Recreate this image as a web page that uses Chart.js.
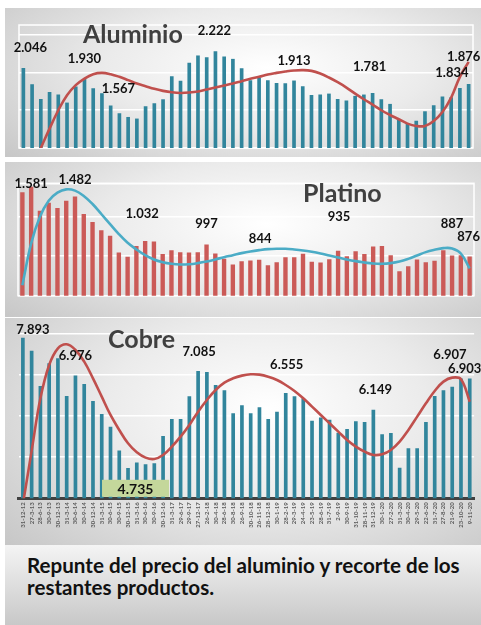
<!DOCTYPE html>
<html><head><meta charset="utf-8">
<script src="https://cdn.jsdelivr.net/npm/chart.js@4.4.0/dist/chart.umd.min.js"></script>
<style>
html,body{margin:0;padding:0;background:#fff;width:481px;height:625px;overflow:hidden;font-family:Lato,"Open Sans",sans-serif;}
.panel{position:absolute;left:5px;width:476px;background:radial-gradient(ellipse 75% 90% at 55% 40%, #ffffff 0%, #ebebeb 45%, #c6c6c6 100%);}
.panel canvas{position:absolute;left:0;top:0;}
.title{position:absolute;font-weight:700;font-size:25px;color:#404040;line-height:25px;white-space:nowrap;}
#caption{position:absolute;left:5px;top:545px;width:476px;height:80px;background:linear-gradient(to bottom,#f4f4f4,#c8c8c8);}
#captxt{position:absolute;left:27px;top:554px;font-weight:700;font-size:20.6px;line-height:22px;color:#111;white-space:nowrap;}
</style></head>
<body>
<div class="panel" id="p1" style="top:8px;height:149px;"><canvas id="c1"></canvas></div>
<div class="panel" id="p2" style="top:162px;height:155px;"><canvas id="c2"></canvas></div>
<div class="panel" id="p3" style="top:318px;height:227px;"><canvas id="c3"></canvas></div>
<div class="title" style="left:83px;top:21px;">Aluminio</div>
<div class="title" style="left:303px;top:180px;">Platino</div>
<div class="title" style="left:108px;top:326px;">Cobre</div>
<div id="caption"></div>
<div id="captxt">Repunte del precio del aluminio y recorte de los<br>restantes productos.</div>
<script>
const dates = ["31-12-12","27-3-13","28-6-13","30-9-13","30-12-13","31-3-14","30-6-14","30-9-14","30-12-14","31-3-15","30-6-15","30-9-15","30-12-15","31-3-16","30-6-16","30-9-16","30-12-16","31-3-17","29-6-17","29-9-17","27-12-17","26-2-18","30-4-18","28-6-18","30-8-18","26-9-18","30-10-18","26-11-18","28-12-18","30-1-19","28-2-19","29-3-19","24-4-19","23-5-19","28-6-19","31-7-19","2-9-19","30-9-19","31-10-19","28-11-19","31-12-19","30-1-20","27-2-20","31-3-20","30-4-20","29-5-20","22-6-20","31-7-20","27-8-20","21-9-20","23-10-20","9-11-20"];

const aluminio = [2046,1874,1719,1793,1765,1680,1849,1930,1832,1779,1648,1567,1528,1511,1641,1673,1715,1959,1910,2100,2178,2160,2222,2167,2142,2044,1917,1945,1917,1888,1885,1913,1853,1761,1765,1775,1719,1701,1751,1765,1781,1715,1666,1504,1458,1489,1588,1652,1744,1737,1834,1876];
const aluminioTrend = [null,1000,1200,1405,1599,1758,1864,1934,1980,1994,1980,1952,1917,1881,1853,1825,1804,1789,1782,1786,1797,1818,1839,1860,1881,1906,1931,1952,1977,1994,2008,2019,2023,2015,1987,1945,1895,1839,1775,1715,1659,1599,1549,1504,1458,1433,1433,1486,1581,1733,1952,2111];
const aluminioTicks = [1200,1600,2000,2400];
const aluminioLabelIdx = [0,7,11,22,31,40,50,51];

const platino = [1524,1581,1338,1419,1365,1439,1482,1304,1223,1142,1085,916,873,981,1032,1028,900,940,920,916,920,997,906,852,795,829,836,844,788,819,869,869,903,822,815,849,935,879,930,900,977,981,889,728,778,846,819,832,940,887,889,876];
const platinoTrend = [586,1008,1277,1439,1520,1554,1541,1487,1406,1305,1203,1102,1014,947,889,845,818,802,795,798,809,825,846,869,889,910,927,940,950,954,954,947,937,923,906,886,866,846,829,815,805,802,809,825,852,886,920,943,960,957,906,755];
const platinoTicks = [480,880,1280,1615];
const platinoLabelIdx = [1,6,14,21,27,36,49,51];

const cobre = [7893,7580,6723,7273,7394,6481,6976,6772,6360,6044,5737,5156,4735,4865,4824,4848,5511,5923,5923,6473,7085,7063,6747,6618,6061,6255,6061,6206,5923,6101,6555,6473,6424,5883,5956,5907,5592,5681,5867,5851,6149,5552,5584,4740,5212,5212,5851,6481,6618,6707,6907,6903];
const cobreTrend = [3850,5150,6424,7232,7636,7733,7596,7313,6909,6465,6020,5657,5333,5115,4986,4954,5051,5253,5495,5778,6101,6384,6626,6804,6909,6974,7006,6998,6949,6869,6747,6602,6424,6222,6020,5818,5616,5414,5253,5131,5051,5067,5172,5374,5657,5980,6303,6602,6828,6925,6885,6343];
const cobreTicks = [4000,5000,6000,7000,8000];
const cobreLabelIdx = [0,6,20,30,40,50,51];
const cobreBoxIdx = 12;

// label offsets (style) in px relative to bar top
const alOffsets = [[7,-20],[0,-20],[-1,-24],[-1,-20],[0,-20],[-3,-26],[-8,-15],[-5,-27]];
const ptOffsets = [[0,-3],[0,-17],[-3,-27],[0,-21],[1,-21],[1,-34],[0,-32],[-1,-20]];
const cuOffsets = [[10,-8],[0,-20],[1,-19],[1,-28],[2,-20],[-11,-24],[-5,-10]];

const fmt = v => String(v).replace(/\B(?=(\d{3})+(?!\d))/g, '.');

const labelPlugin = {
  id: 'valLabels',
  afterDatasetsDraw(chart, args, o) {
    if (!o || !o.idx) return;
    const ctx = chart.ctx, meta = chart.getDatasetMeta(1);
    const vals = chart.data.datasets[1].data;
    ctx.save();
    if (o.box != null) {
      const b = meta.data[o.box];
      const ca = chart.chartArea;
      const cx = b.x + 7.5, w = 67, h = 17;
      ctx.fillStyle = '#c4d79b';
      ctx.fillRect(cx - w/2, ca.bottom - 1.5 - h, w, h);
      ctx.fillStyle = '#111';
      ctx.font = 'bold 14px Lato';
      ctx.textAlign = 'center'; ctx.textBaseline = 'middle';
      ctx.fillText(fmt(vals[o.box]), cx, ca.bottom - 1.5 - h/2 + 1);
    }
    ctx.font = 'bold 13px Lato';
    ctx.fillStyle = '#111';
    ctx.textAlign = 'center'; ctx.textBaseline = 'middle';
    o.idx.forEach((i, k) => {
      const b = meta.data[i];
      const off = o.off[k];
      ctx.fillText(fmt(vals[i]), b.x + off[0], b.y + off[1]);
    });
    ctx.restore();
  }
};
const framePlugin = {
  id: 'frame',
  beforeDatasetsDraw(chart, args, o) {
    if (!o || !o.on) return;
    const {ctx, chartArea: ca} = chart;
    ctx.save(); ctx.strokeStyle = '#ffffff'; ctx.lineWidth = 1.5;
    ctx.strokeRect(ca.left, ca.top, ca.right - ca.left, ca.bottom - ca.top);
    ctx.restore();
  }
};
Chart.register(labelPlugin, framePlugin);

function make(id, w, h, cfg) {
  const cv = document.getElementById(id);
  cv.width = w; cv.height = h; cv.style.width = w + 'px'; cv.style.height = h + 'px';
  return new Chart(cv, {
    type: 'bar',
    data: {
      labels: dates,
      datasets: [
        {type: 'line', data: cfg.trend, borderColor: cfg.lineColor, borderWidth: 2.6, pointRadius: 0, tension: 0.4, fill: false, order: 0},
        {type: 'bar', data: cfg.values, backgroundColor: cfg.barColor, barPercentage: cfg.barPct, categoryPercentage: 1, order: 1}
      ]
    },
    options: {
      responsive: false, animation: false, devicePixelRatio: 1,
      layout: {padding: cfg.pad},
      elements: {line: {capBezierPoints: false}},
      plugins: {legend: {display: false}, tooltip: {enabled: false},
        valLabels: {idx: cfg.labelIdx, off: cfg.off, box: cfg.box},
        frame: {on: cfg.frame}},
      scales: {
        x: cfg.xAxis ? {
          offset: true,
          grid: {display: false, drawTicks: false},
          border: {display: true, color: '#404040', width: 3},
          ticks: {autoSkip: false, minRotation: 90, maxRotation: 90, padding: 4,
            font: {family: 'Lato', size: 6, weight: 'bold'}, color: '#595959'},
          afterFit(s) { s.height = cfg.xH; }
        } : {display: false, offset: true},
        y: {
          min: cfg.min, max: cfg.max,
          afterBuildTicks(s) { s.ticks = cfg.ticks.map(v => ({value: v})); },
          ticks: {display: false},
          grid: {color: '#ffffff', lineWidth: 1.5, drawTicks: false},
          border: {display: false},
          afterFit(s) { s.width = 0; }
        }
      }
    }
  });
}

make('c1', 476, 149, {values: aluminio, trend: aluminioTrend, barColor: '#31859c', lineColor: '#c0504d', barPct: 0.42,
  min: 1200, max: 2500, ticks: aluminioTicks, pad: {left: 14, right: 8, top: 17, bottom: 9},
  labelIdx: aluminioLabelIdx, off: alOffsets, frame: true});
make('c2', 476, 155, {values: platino, trend: platinoTrend, barColor: '#cb5a57', lineColor: '#4bacc6', barPct: 0.5,
  min: 480, max: 1615, ticks: platinoTicks, pad: {left: 13, right: 7, top: 21.3, bottom: 21.3},
  labelIdx: platinoLabelIdx, off: ptOffsets, frame: true});
make('c3', 476, 227, {values: cobre, trend: cobreTrend, barColor: '#31859c', lineColor: '#c0504d', barPct: 0.42,
  min: 4000, max: 8000, ticks: cobreTicks, pad: {left: 13.5, right: 6, top: 15.3, bottom: 0},
  labelIdx: cobreLabelIdx, off: cuOffsets, box: cobreBoxIdx, frame: false, xAxis: true, xH: 46.7});
</script>
</body></html>
